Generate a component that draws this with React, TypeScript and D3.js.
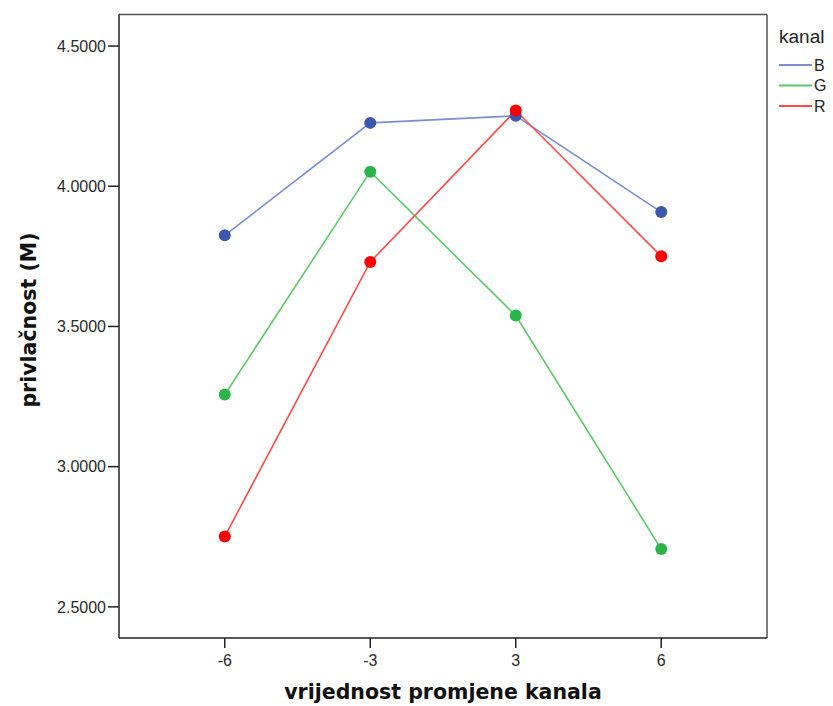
import React from "react";
import * as d3 from "d3";

const categories = ["-6", "-3", "3", "6"];
const seriesNames = ["B", "G", "R"];
const valuesB = [3.825, 4.226, 4.251, 3.908];
const valuesG = [3.257, 4.052, 3.539, 2.706];
const valuesR = [2.751, 3.730, 4.270, 3.750];
const yTicks = [2.5, 3.0, 3.5, 4.0, 4.5];

const seriesValues = [valuesB, valuesG, valuesR];
const lineColors = ["#7a8fd2", "#5cc86a", "#ff4a4a"];
const dotColors = ["#3d57ac", "#2cb44a", "#ff0000"];

export default function App() {
  const W = 833, H = 706;
  const left = 119, right = 767, top = 14.5, bottom = 638;
  const x = d3.scalePoint<string>().domain(categories).range([left, right]).padding(0.727);
  const y = d3.scaleLinear().domain([2.389, 4.6125]).range([bottom, top]);
  const line = d3.line<number>().x((_, i) => x(categories[i]) as number).y((d) => y(d));

  return (
    <svg width={W} height={H} style={{ position: "absolute", left: 0, top: 0, background: "#fff" }}>
      <rect x={0} y={0} width={W} height={H} fill="#fff" />
      {/* frame */}
      <line x1={left} y1={top} x2={right} y2={top} stroke="#555" strokeWidth={1.5} />
      <line x1={right} y1={top} x2={right} y2={bottom} stroke="#555" strokeWidth={1.5} />
      <line x1={left} y1={top} x2={left} y2={bottom} stroke="#222" strokeWidth={1.5} />
      <line x1={left} y1={bottom} x2={right} y2={bottom} stroke="#222" strokeWidth={1.5} />
      {/* y ticks */}
      {yTicks.map((t) => (
        <g key={t}>
          <line x1={left - 11} x2={left} y1={y(t)} y2={y(t)} stroke="#222" strokeWidth={1.5} />
          <text x={left - 13} y={y(t)} dy="0.36em" textAnchor="end" fontFamily="Liberation Sans, Arial, sans-serif" fontSize={16} fill="#2a2a2a">
            {d3.format(".4f")(t)}
          </text>
        </g>
      ))}
      {/* x ticks */}
      {categories.map((c) => (
        <g key={c}>
          <line x1={x(c)} x2={x(c)} y1={bottom} y2={bottom + 10} stroke="#222" strokeWidth={1.5} />
          <text x={x(c)} y={bottom + 28} textAnchor="middle" fontFamily="Liberation Sans, Arial, sans-serif" fontSize={16} fill="#2a2a2a">
            {c}
          </text>
        </g>
      ))}
      {/* axis titles */}
      <text x={443} y={699} textAnchor="middle" fontFamily="DejaVu Sans, Verdana, sans-serif" fontWeight="bold" fontSize={20.5} fill="#111">
        vrijednost promjene kanala
      </text>
      <text transform="translate(36,320) rotate(-90)" textAnchor="middle" fontFamily="DejaVu Sans, Verdana, sans-serif" fontWeight="bold" fontSize={20.5} fill="#111">
        privlačnost (M)
      </text>
      {/* lines */}
      {seriesValues.map((vals, si) => (
        <path key={si} d={line(vals) as string} fill="none" stroke={lineColors[si]} strokeWidth={1.6} />
      ))}
      {seriesValues.map((vals, si) =>
        vals.map((v, i) => (
          <circle key={si + "-" + i} cx={x(categories[i])} cy={y(v)} r={6} fill={dotColors[si]} />
        ))
      )}
      {/* legend */}
      <text x={779} y={43} fontFamily="Liberation Sans, Arial, sans-serif" fontSize={19} fill="#222">kanal</text>
      {seriesNames.map((s, i) => (
        <g key={s}>
          <line x1={779} x2={812} y1={65 + i * 20.5} y2={65 + i * 20.5} stroke={lineColors[i]} strokeWidth={1.8} />
          <text x={814} y={65 + i * 20.5} dy="0.36em" fontFamily="Liberation Sans, Arial, sans-serif" fontSize={16} fill="#222">{s}</text>
        </g>
      ))}
    </svg>
  );
}
